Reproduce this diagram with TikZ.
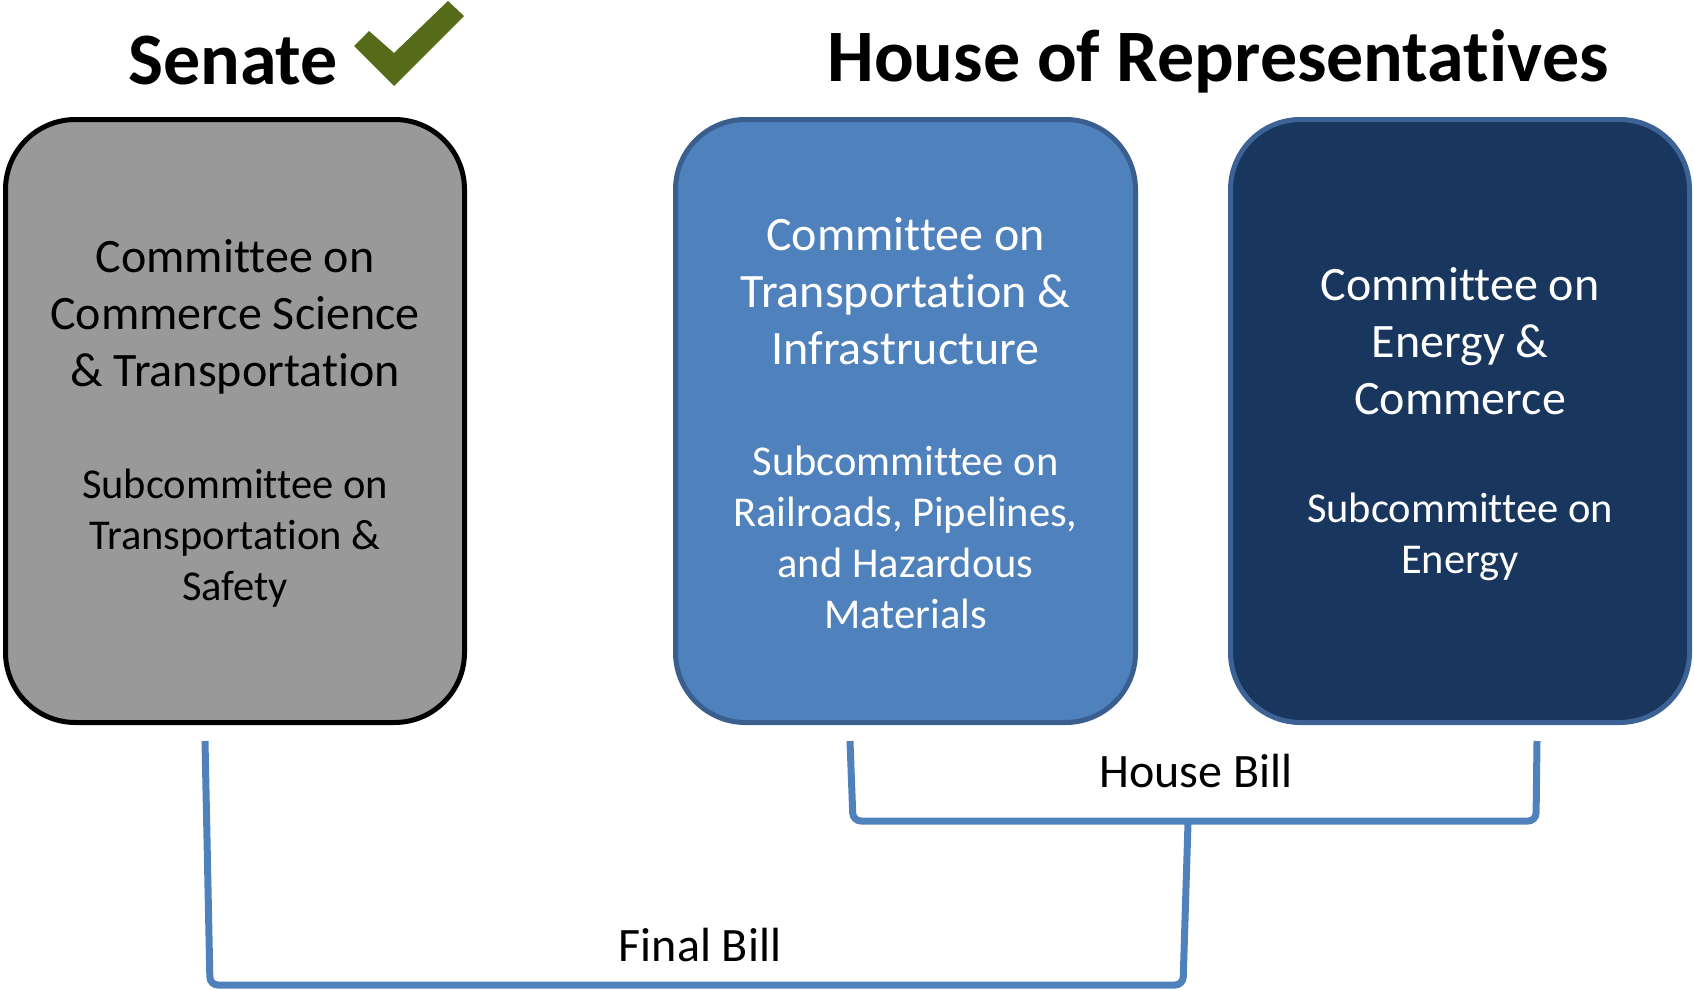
\documentclass[tikz,border=0pt]{standalone}
\usepackage{fontspec}
\setmainfont[Ligatures=NoCommon]{Carlito}
\definecolor{senfill}{HTML}{999999}
\definecolor{tifill}{HTML}{4F81BD}
\definecolor{tiedge}{HTML}{3A5F8E}
\definecolor{ecfill}{HTML}{19375E}
\definecolor{ecedge}{HTML}{3D6396}
\definecolor{brk}{HTML}{4F81BD}
\definecolor{chk}{HTML}{566B19}
\tikzset{
  box/.style={rounded corners=70pt, line width=5pt, minimum width=459pt, minimum height=603pt},
  maintxt/.style={align=center, font=\fontsize{48}{57}\selectfont},
  subtxt/.style={align=center, font=\fontsize{42.5}{51}\selectfont},
  title/.style={font=\fontsize{74}{80}\selectfont\bfseries},
  lbl/.style={font=\fontsize{48}{56}\selectfont},
  bracket/.style={draw=brk, line width=7pt, rounded corners=8pt}
}
\begin{document}
\begin{tikzpicture}[x=1pt,y=-1pt]
\useasboundingbox (0,0) rectangle (1694,990);
% boxes
\node[box, draw=black, fill=senfill] (sen) at (235,421) {};
\node[box, draw=tiedge, fill=tifill, minimum width=460pt] (ti) at (905.5,421) {};
\node[box, draw=ecedge, fill=ecfill] (ec) at (1460,421) {};
% titles
\node[title] (sent) at (233,61) {Senate};
\node[title] (hort) at (1218,61) {House of Representatives};
\fill[chk] (354,46) -- (369,31) -- (394,53) -- (448,1) -- (464,16) -- (394,86) -- cycle;
% box texts
\node[maintxt] (senm) at (235,317) {Committee on\\Commerce Science\\\& Transportation};
\node[subtxt] (sens) at (235,538) {Subcommittee on\\Transportation \&\\Safety};
\node[maintxt, text=white] (tim) at (905.5,291) {Committee on\\Transportation \&\\Infrastructure};
\node[subtxt, text=white] (tis) at (905.5,537) {Subcommittee on\\Railroads, Pipelines,\\and Hazardous\\Materials};
\node[maintxt, text=white] (ecm) at (1460,341) {Committee on\\Energy \&\\Commerce};
\node[subtxt, text=white] (ecs) at (1460,537) {Subcommittee on\\Energy};
% brackets
\coordinate (hbl) at (850,741);
\coordinate (hbr) at (1537,741);
\coordinate (fbl) at (205,741);
\coordinate (fbr) at (1188,823);
\draw[bracket] (hbl) -- (853,821) -- (1536,821) -- (hbr);
\draw[bracket] (fbl) -- (210,985) -- (1183,985) -- (fbr);
\node[lbl] (hb) at (1196,771) {House Bill};
\node[lbl] (fb) at (700,945) {Final Bill};
\end{tikzpicture}
\end{document}
